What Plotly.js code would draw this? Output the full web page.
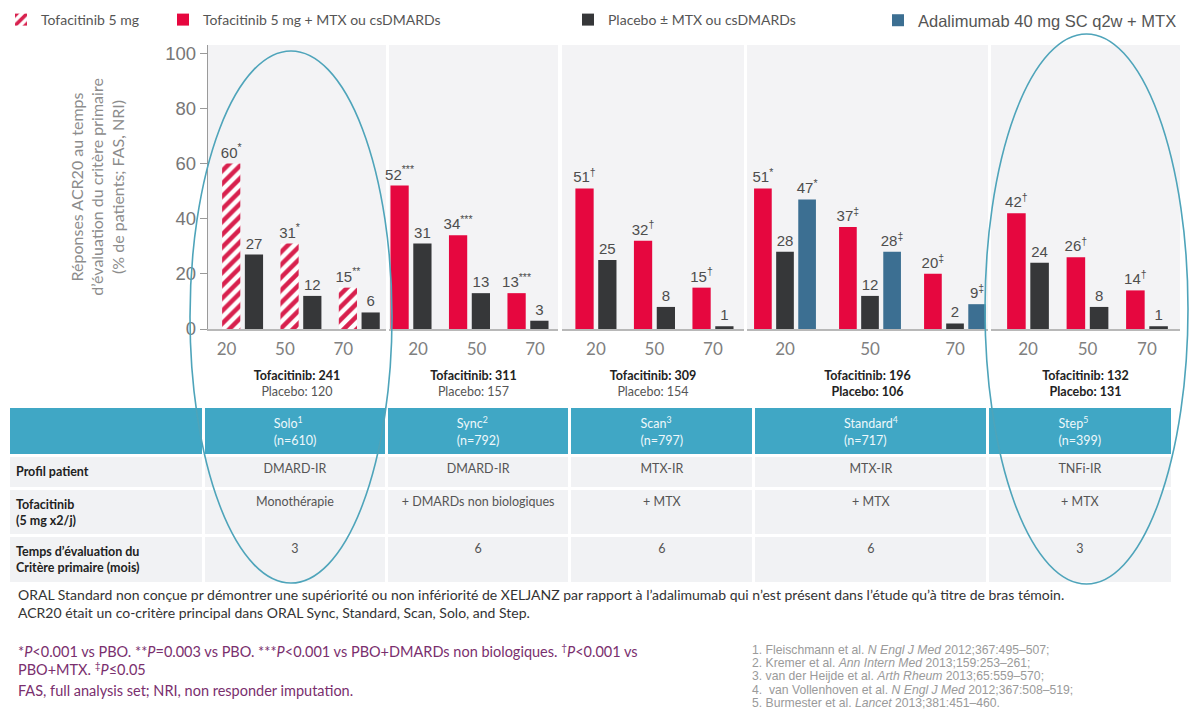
<!DOCTYPE html>
<html><head><meta charset="utf-8">
<script src="https://cdn.plot.ly/plotly-3.0.1.min.js"></script>
<style>html,body{margin:0;padding:0;background:#fff}#chart{width:1197px;height:718px}</style>
</head><body><div id="chart"></div>
<script>
// ---------- data ----------
const levels = ['20', '50', '70'];
const studies = ['Solo', 'Sync', 'Scan', 'Standard', 'Step'];
const studyRef = ['1', '2', '3', '4', '5'];
const studyN = ['610', '792', '797', '717', '399'];
const tofaN = ['241', '311', '309', '196', '132'];
const pboN = ['120', '157', '154', '106', '131'];

const tofaSolo = [60, 31, 15];
const tofaSync = [52, 34, 13];
const tofaScan = [51, 32, 15];
const tofaStandard = [51, 37, 20];
const tofaStep = [42, 26, 14];
const pboSolo = [27, 12, 6];
const pboSync = [31, 13, 3];
const pboScan = [25, 8, 1];
const pboStandard = [28, 12, 2];
const pboStep = [24, 8, 1];
const adaStandard = [47, 28, 9];

const tofaSoloLbl = ['60<sup>*</sup>', '31<sup>*</sup>', '15<sup>**</sup>'];
const tofaSyncLbl = ['52<sup>***</sup>', '34<sup>***</sup>', '13<sup>***</sup>'];
const tofaScanLbl = ['51<sup>†</sup>', '32<sup>†</sup>', '15<sup>†</sup>'];
const tofaStandardLbl = ['51<sup>*</sup>', '37<sup>‡</sup>', '20<sup>‡</sup>'];
const tofaStepLbl = ['42<sup>†</sup>', '26<sup>†</sup>', '14<sup>†</sup>'];
const adaStandardLbl = ['47<sup>*</sup>', '28<sup>‡</sup>', '9<sup>‡</sup>'];

const rowLabels = ['<b>Profil patient</b>', '<b>Tofacitinib<br>(5 mg x2/j)</b>', '<b>Temps d’évaluation du<br>Critère primaire (mois)</b>'];
const profil = ['DMARD-IR', 'DMARD-IR', 'MTX-IR', 'MTX-IR', 'TNFi-IR'];
const treatment = ['Monothérapie', '+ DMARDs non biologiques', '+ MTX', '+ MTX', '+ MTX'];
const months = ['3', '6', '6', '6', '3'];

const legendNames = ['Tofacitinib 5 mg', 'Tofacitinib 5 mg + MTX ou csDMARDs', 'Placebo ± MTX ou csDMARDs', 'Adalimumab 40 mg SC q2w + MTX'];

// ---------- layout helpers ----------
const W = 1197, H = 718;
const fx = p => p / W;
const fy = p => 1 - p / H;
const RED = '#e6073f', DARK = '#363739', BLUE = '#3c6f92', HATCH = '#d8214e';
const labelFont = {family: 'Liberation Sans, Arial, sans-serif', size: 15, color: '#4d4d4d'};

function bar(y, text, axis, color, name, legend, show, pattern) {
  const t = {
    type: 'bar', x: levels, y: y, xaxis: axis, yaxis: 'y',
    marker: {color: color, line: {width: 0}},
    text: text, textposition: 'outside', textfont: labelFont, textangle: 0,
    cliponaxis: false, constraintext: 'none', hoverinfo: 'skip',
    name: name, legend: legend, showlegend: show
  };
  if (pattern) t.marker.pattern = {shape: '/', fgcolor: HATCH, bgcolor: '#ffffff', size: 9, solidity: 0.5};
  return t;
}

const data = [
  bar(tofaSolo, tofaSoloLbl, 'x', HATCH, legendNames[0], 'legend', true, true),
  bar(pboSolo, pboSolo.map(String), 'x', DARK, legendNames[2], 'legend3', true),
  bar(tofaSync, tofaSyncLbl, 'x2', RED, legendNames[1], 'legend2', true),
  bar(pboSync, pboSync.map(String), 'x2', DARK, legendNames[2], 'legend3', false),
  bar(tofaScan, tofaScanLbl, 'x3', RED, legendNames[1], 'legend2', false),
  bar(pboScan, pboScan.map(String), 'x3', DARK, legendNames[2], 'legend3', false),
  bar(tofaStandard, tofaStandardLbl, 'x4', RED, legendNames[1], 'legend2', false),
  bar(pboStandard, pboStandard.map(String), 'x4', DARK, legendNames[2], 'legend3', false),
  bar(adaStandard, adaStandardLbl, 'x4', BLUE, legendNames[3], 'legend4', true),
  bar(tofaStep, tofaStepLbl, 'x5', RED, legendNames[1], 'legend2', false),
  bar(pboStep, pboStep.map(String), 'x5', DARK, legendNames[2], 'legend3', false)
];

// table
const headerVals = [''].concat(studies.map((s, i) => s + '<sup>' + studyRef[i] + '</sup><br>(n=' + studyN[i] + ')'));
const cellVals = [rowLabels].concat(studies.map((s, i) => [profil[i], treatment[i], months[i]]));
data.push({
  type: 'table',
  domain: {x: [fx(8), fx(1172)], y: [fy(584), fy(406)]},
  columnwidth: [193, 181, 181, 182, 231, 182],
  header: {
    values: headerVals.map(v => [v]),
    fill: {color: '#40a7c5'}, line: {color: '#ffffff', width: 3},
    font: {family: 'Lato, sans-serif', size: 12.5, color: '#eef8fb'},
    align: 'center', height: 46
  },
  cells: {
    values: cellVals,
    fill: {color: '#f1f2f4'}, line: {color: '#ffffff', width: 3},
    font: {family: 'Lato, sans-serif', size: 12.5, color: ['#222222', '#555555', '#555555', '#555555', '#555555', '#555555']},
    align: ['left', 'center', 'center', 'center', 'center', 'center'],
    height: 33
  }
});

// x axes
const panels = [
  {d: [208, 386], r: [-0.593, 2.458], shift: -16},
  {d: [389, 558], r: [-0.376, 2.513], shift: 7},
  {d: [562, 744], r: [-0.58, 2.53], shift: 0},
  {d: [747, 988], r: [-0.447, 2.388], shift: 0},
  {d: [991, 1180], r: [-0.622, 2.555], shift: 0}
];
const boldPbo = [false, false, false, true, true];
const legFont = {family: 'Lato, sans-serif', size: 14, color: '#555'};

const layout = {
  width: W, height: H,
  margin: {l: 0, r: 0, t: 0, b: 0},
  paper_bgcolor: '#ffffff', plot_bgcolor: '#f3f3f5',
  barmode: 'group', bargap: 0.22, bargroupgap: 0.2,
  font: {family: 'Lato, sans-serif', color: '#444'},
  showlegend: true,
  yaxis: {
    domain: [fy(329), fy(45)], range: [0, 103], anchor: 'x',
    tick0: 0, dtick: 20, ticks: 'outside', ticklen: 7, tickcolor: '#9a9a9a',
    showline: true, linecolor: '#9a9a9a', linewidth: 1.2,
    showgrid: false, zeroline: false, fixedrange: true,
    tickfont: {family: 'Liberation Sans, Arial, sans-serif', size: 18.5, color: '#777777'},
    title: {
      text: 'Réponses ACR20 au temps<br>d’évaluation du critère primaire<br>(% de patients; FAS, NRI)',
      font: {family: 'Lato, sans-serif', size: 16, color: '#8c8c8c'}, standoff: 36
    }
  },
  shapes: [
    {type: 'circle', xref: 'paper', yref: 'paper', x0: fx(190), x1: fx(392), y0: fy(583), y1: fy(51), line: {color: '#4ea4ba', width: 1.6}, layer: 'above'},
    {type: 'circle', xref: 'paper', yref: 'paper', x0: fx(985), x1: fx(1188), y0: fy(584), y1: fy(34), line: {color: '#4ea4ba', width: 1.6}, layer: 'above'}
  ],
  annotations: [],
  legend: {x: fx(1), y: fy(4), xanchor: 'left', yanchor: 'top', orientation: 'h', bgcolor: 'rgba(0,0,0,0)', font: legFont},
  legend2: {x: fx(163), y: fy(4), xanchor: 'left', yanchor: 'top', orientation: 'h', bgcolor: 'rgba(0,0,0,0)', font: legFont},
  legend3: {x: fx(568), y: fy(4), xanchor: 'left', yanchor: 'top', orientation: 'h', bgcolor: 'rgba(0,0,0,0)', font: legFont},
  legend4: {x: fx(878), y: fy(3), xanchor: 'left', yanchor: 'top', orientation: 'h', bgcolor: 'rgba(0,0,0,0)', font: {family: 'Liberation Sans, Arial, sans-serif', size: 16.5, color: '#555'}}
};

panels.forEach((p, i) => {
  const key = i === 0 ? 'xaxis' : 'xaxis' + (i + 1);
  const pboTxt = boldPbo[i] ? '<b>Placebo: ' + pboN[i] + '</b>' : '<span style="color:#555">Placebo: ' + pboN[i] + '</span>';
  layout[key] = {
    domain: [fx(p.d[0]), fx(p.d[1])], range: p.r, anchor: 'y', type: 'category',
    showline: true, linecolor: '#b8b8b8', linewidth: 1.5, ticks: '',
    showgrid: false, zeroline: false, fixedrange: true,
    tickfont: {family: 'Lato, sans-serif', size: 17, color: '#808080'},
    ticklabelshift: p.shift, ticklabelstandoff: 4,
    title: {text: '<b>Tofacitinib: ' + tofaN[i] + '</b><br>' + pboTxt, font: {family: 'Lato, sans-serif', size: 12.5, color: '#222'}, standoff: 13}
  };
});

// footnotes
const noteFont = {family: 'Lato, sans-serif', size: 14, color: '#333'};
const purple = {family: 'Lato, sans-serif', size: 14.5, color: '#7a2f6e'};
const notes = [
  {t: 'ORAL Standard non conçue pr démontrer une supériorité ou non infériorité de XELJANZ par rapport à l’adalimumab qui n’est présent dans l’étude qu’à titre de bras témoin.', y: 594, f: noteFont},
  {t: 'ACR20 était un co-critère principal dans ORAL Sync, Standard, Scan, Solo, and Step.', y: 612, f: noteFont},
  {t: '*<i>P</i><0.001 vs PBO. **<i>P</i>=0.003 vs PBO. ***<i>P</i><0.001 vs PBO+DMARDs non biologiques. <sup>†</sup><i>P</i><0.001 vs', y: 650, f: purple},
  {t: 'PBO+MTX. <sup>‡</sup><i>P</i>≤0.05', y: 668, f: purple},
  {t: 'FAS, full analysis set; NRI, non responder imputation.', y: 690, f: purple}
];
notes.forEach(n => layout.annotations.push({xref: 'paper', yref: 'paper', x: fx(16), y: fy(n.y), xanchor: 'left', yanchor: 'middle', showarrow: false, text: n.t, font: n.f, align: 'left'}));

const refs = [
  '1. Fleischmann et al. <i>N Engl J Med</i> 2012;367:495–507;',
  '2. Kremer et al. <i>Ann Intern Med</i> 2013;159:253–261;',
  '3. van der Heijde et al. <i>Arth Rheum</i> 2013;65:559–570;',
  '4.  van Vollenhoven et al. <i>N Engl J Med</i> 2012;367:508–519;',
  '5. Burmester et al. <i>Lancet</i> 2013;381:451–460.'
];
refs.forEach((r, i) => layout.annotations.push({xref: 'paper', yref: 'paper', x: fx(750), y: fy(650 + i * 13.2), xanchor: 'left', yanchor: 'middle', showarrow: false, text: r, font: {family: 'Liberation Sans, Arial, sans-serif', size: 12.2, color: '#9a9a9a'}}));

Plotly.newPlot('chart', data, layout, {displayModeBar: false, staticPlot: true});
</script>
</body></html>
